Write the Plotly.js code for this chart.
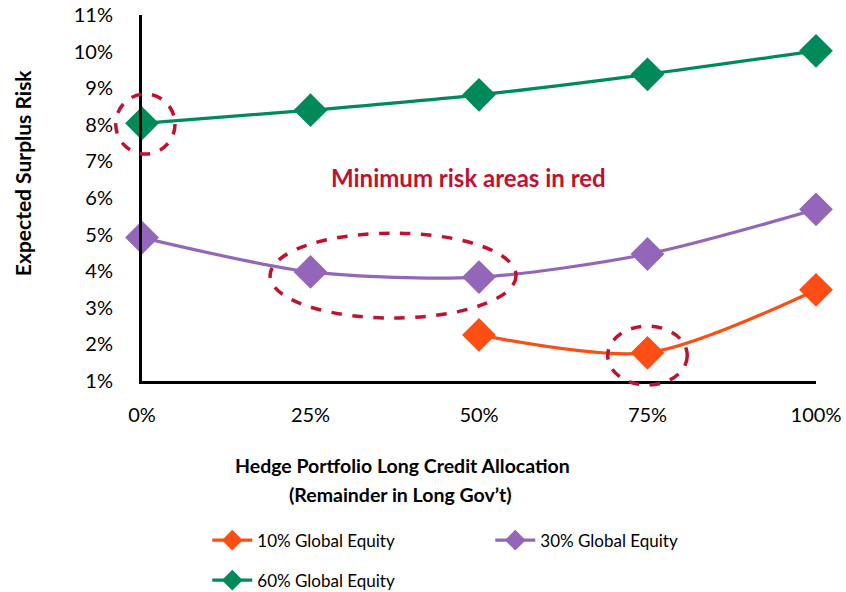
<!DOCTYPE html>
<html><head><meta charset="utf-8">
<script src="https://cdn.plot.ly/plotly-3.0.1.min.js"></script>
<style>body{margin:0;background:#fff}#chart{width:846px;height:592px}</style>
</head><body><div id="chart"></div>
<script>
const allocation = [0, 25, 50, 75, 100];
const tickLabels = ["0%", "25%", "50%", "75%", "100%"];
const equity10 = [null, null, 2.26, 1.77, 3.49];
const equity30 = [4.92, 3.98, 3.84, 4.47, 5.69];
const equity60 = [8.04, 8.40, 8.82, 9.38, 10.02];
const seriesNames = ["10% Global Equity", "30% Global Equity", "60% Global Equity"];
const yTicks = [1,2,3,4,5,6,7,8,9,10,11];
const yTickLabels = yTicks.map(v => v + "%");
const colors = ["#FC4E14", "#9366BA", "#008A5A"];
const red = "#C0122E";
const font = "Lato, 'Open Sans', sans-serif";
const xRange = [0, 100], yRange = [1, 11];

function tr(y, i, lg) {
  return {x: allocation, y: y, name: seriesNames[i], type: "scatter", mode: "lines+markers",
    line: {color: colors[i], width: 3.2, shape: "spline", smoothing: 0.8},
    marker: {symbol: "diamond", size: 26, color: colors[i]},
    cliponaxis: false, connectgaps: false, legend: lg};
}
const data = [tr(equity10,0,"legend"), tr(equity30,1,"legend"), tr(equity60,2,"legend2")];

// ellipses given in data units, converted to paper so they are not clipped
const px = v => (v - xRange[0]) / (xRange[1] - xRange[0]);
const py = v => (v - yRange[0]) / (yRange[1] - yRange[0]);
function ell(x0,x1,y0,y1){return {type:"circle", xref:"paper", yref:"paper", x0:px(x0), x1:px(x1), y0:py(y0), y1:py(y1),
  line:{color:red, width:3.5, dash:"dash"}, fillcolor:"rgba(0,0,0,0)", layer:"above"};}

const legBase = {orientation: "h", xref: "container", yref: "container", xanchor: "left", yanchor: "top",
  entrywidth: 228, entrywidthmode: "pixels", font: {size: 17}, itemwidth: 40, bgcolor: "rgba(0,0,0,0)"};

const layout = {
  width: 846, height: 592,
  margin: {l: 142, r: 30, t: 15, b: 211},
  paper_bgcolor: "#fff", plot_bgcolor: "#fff",
  font: {family: font, size: 18, color: "#000"},
  showlegend: true,
  xaxis: {range: xRange, tickvals: allocation, ticktext: tickLabels, showgrid: false, zeroline: false,
    showline: true, linecolor: "#000", linewidth: 3, ticks: "", ticklabelstandoff: 14,
    tickfont: {size: 20}},
  yaxis: {range: yRange, tickvals: yTicks, ticktext: yTickLabels, showgrid: false, zeroline: false,
    showline: true, linecolor: "#000", linewidth: 3, ticks: "", ticklabelstandoff: 22,
    tickfont: {size: 20}},
  legend: Object.assign({}, legBase, {x: 0.245, y: 0.1172}),
  legend2: Object.assign({}, legBase, {x: 0.245, y: 0.0497}),
  shapes: [ell(-3.9, 4.9, 7.2, 8.84), ell(19.0, 55.5, 2.72, 5.04), ell(69.1, 80.9, 0.89, 2.5)],
  annotations: [
    {x: 48.5, y: 6.55, xref: "x", yref: "y", text: "<b>Minimum risk areas in red</b>",
      showarrow: false, font: {size: 24, color: red}},
    {x: 0.386, y: -0.232, xref: "paper", yref: "paper", xanchor: "center", yanchor: "middle",
      text: "<b>Hedge Portfolio Long Credit Allocation</b>",
      showarrow: false, font: {size: 19.5, color: "#000"}},
    {x: 0.384, y: -0.309, xref: "paper", yref: "paper", xanchor: "center", yanchor: "middle",
      text: "<b>(Remainder in Long Gov’t)</b>",
      showarrow: false, font: {size: 19.5, color: "#000"}},
    {x: -0.178, y: 0.568, xref: "paper", yref: "paper", xanchor: "center", yanchor: "middle", textangle: -90,
      text: "<b>Expected Surplus Risk</b>", showarrow: false, font: {size: 21, color: "#000"}}
  ]
};
Plotly.newPlot("chart", data, layout, {displayModeBar: false});
</script></body></html>
